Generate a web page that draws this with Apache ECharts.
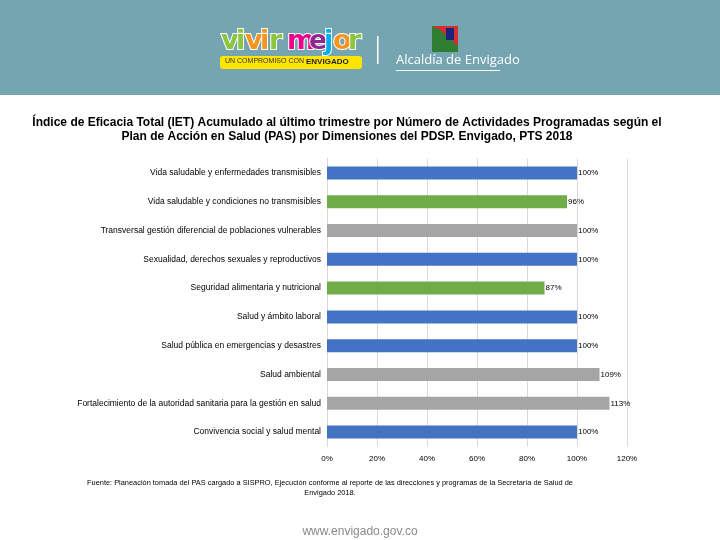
<!DOCTYPE html>
<html><head><meta charset="utf-8">
<script src="https://cdn.jsdelivr.net/npm/echarts@6/dist/echarts.min.js"></script>
<style>html,body{margin:0;padding:0;background:#fff}#c{width:720px;height:540px}</style>
</head><body><div id="c"></div>
<script>
const categories = [
  'Vida saludable y enfermedades transmisibles',
  'Vida saludable y condiciones no transmisibles',
  'Transversal gestión diferencial de poblaciones vulnerables',
  'Sexualidad, derechos sexuales y reproductivos',
  'Seguridad alimentaria y nutricional',
  'Salud y ámbito laboral',
  'Salud pública en emergencias y desastres',
  'Salud ambiental',
  'Fortalecimiento de la autoridad sanitaria para la gestión en salud',
  'Convivencia social y salud mental'
];
const values = [100, 96, 100, 100, 87, 100, 100, 109, 113, 100];
const barColors = ['#4472C4','#70AD47','#A5A5A5','#4472C4','#70AD47','#4472C4','#4472C4','#A5A5A5','#A5A5A5','#4472C4'];
const titleLines = 'Índice de Eficacia Total (IET) Acumulado al último trimestre por Número de Actividades Programadas según el\nPlan de Acción en Salud (PAS) por Dimensiones del PDSP. Envigado, PTS 2018';
const sourceText = 'Fuente: Planeación tomada del PAS cargado a SISPRO, Ejecución conforme al reporte de las direcciones y programas de la Secretaría de Salud de\nEnvigado 2018.';
const urlText = 'www.envigado.gov.co';

const chart = echarts.init(document.getElementById('c'));
const logoLetters = [['v','#8CC63F'],['i','#8CC63F'],['v','#F7941D'],['i','#F7941D'],['r','#8CC63F'],[' ',''],['m','#EC008C'],['e','#92278F'],['j','#00AEEF'],['o','#F7941D'],['r','#8CC63F']];
const logoEls = [];
let lx = 221;
logoLetters.forEach(([ch,col])=>{
  if(ch===' '){lx+=3;return;}
  logoEls.push({type:'text',x:lx,y:28,style:{text:ch,fill:col,stroke:'#fff',lineWidth:2,font:'900 27px "DejaVu Sans"'}});
  lx += (ch==='i'||ch==='j')?9:(ch==='m'?22:15);
});
function ctext(x,y,text,font,fill,lh){
  return {type:'text',x:x,y:y,style:{text:text,align:'center',verticalAlign:'top',fill:fill,font:font,lineHeight:lh}};
}
chart.setOption({
  animation:false,
  graphic:[
    {type:'rect',shape:{x:0,y:0,width:720,height:95},style:{fill:'#74A5B1'},z:-1},
    ...logoEls,
    {type:'rect',shape:{x:220,y:56,width:142,height:13,r:3},style:{fill:'#FFE500'}},
    {type:'text',x:225,y:58,style:{text:'UN COMPROMISO CON ',fill:'#333',font:'7px "Liberation Sans"'}},
    {type:'text',x:306,y:57.5,style:{text:'ENVIGADO',fill:'#222',font:'bold 8px "Liberation Sans"'}},
    {type:'rect',shape:{x:377,y:36,width:1.5,height:28},style:{fill:'#fff'}},
    {type:'rect',shape:{x:432,y:26,width:26,height:26},style:{fill:'#2E7D32'}},
    {type:'polygon',shape:{points:[[432,26],[458,26],[458,46],[440,30]]},style:{fill:'#D32F2F'}},
    {type:'rect',shape:{x:446,y:28,width:8,height:12},style:{fill:'#1A237E'}},
    {type:'text',x:396,y:54,style:{text:'Alcaldía de Envigado',fill:'#fff',font:'13px "Open Sans"'}},
    {type:'rect',shape:{x:396,y:70,width:104,height:1},style:{fill:'#fff'}},
    ctext(347,116,titleLines,'bold 12px "Liberation Sans Narrow", "Liberation Sans"','#000',14),
    ctext(330,478,sourceText,'7.4px "Liberation Sans"','#000',10),
    ctext(360,525,urlText,'12px "Liberation Sans"','#8A8A8A',14)
  ],
  grid:{left:327,right:93,top:158.5,bottom:93.5,containLabel:false},
  xAxis:{type:'value',min:0,max:120,interval:20,
    axisLabel:{formatter:'{value}%',color:'#000',fontSize:8,fontFamily:'Liberation Sans',margin:8},
    axisLine:{show:false},axisTick:{show:false},
    splitLine:{lineStyle:{color:'#D9D9D9',width:1}}},
  yAxis:{type:'category',data:categories,inverse:true,
    axisLabel:{color:'#000',fontSize:8.5,fontFamily:'Liberation Sans',margin:6},
    axisLine:{show:true,lineStyle:{color:'#D9D9D9'}},axisTick:{show:false}},
  series:[{type:'bar',barWidth:13,
    data:values.map((v,i)=>({value:v,itemStyle:{color:barColors[i]}})),
    label:{show:true,position:'right',distance:1,formatter:'{c}%',color:'#000',fontSize:8,fontFamily:'Liberation Sans'}}]
});
</script></body></html>
